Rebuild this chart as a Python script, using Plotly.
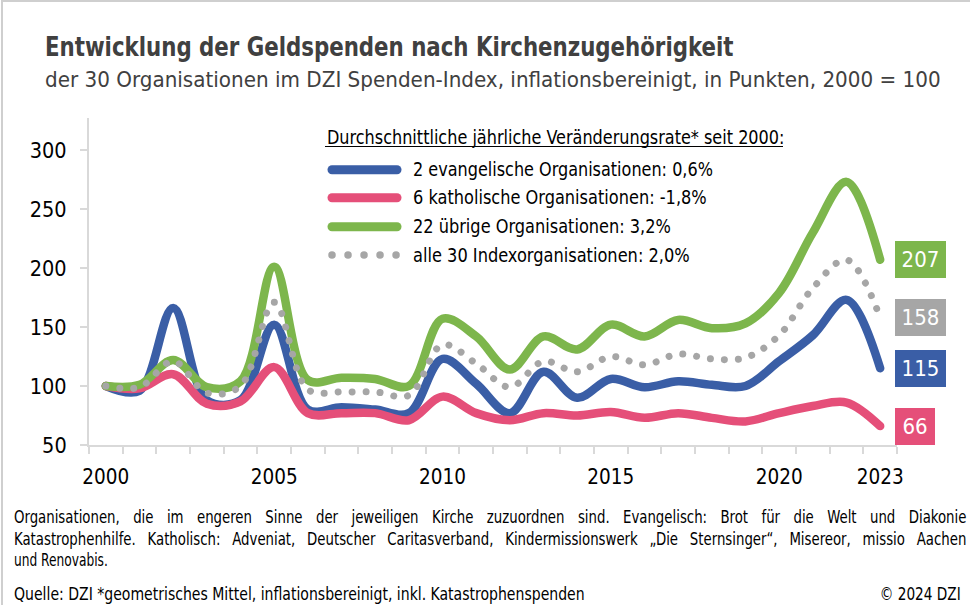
import json
import plotly.graph_objects as go

# ---------------- data ----------------
years = [str(y) for y in range(2000, 2024)]
tick_text = ["2000", "", "", "", "", "2005", "", "", "", "", "2010", "", "", "", "", "2015",
             "", "", "", "", "2020", "", "", "2023"]
evangelisch = [100, 96, 166, 88, 88, 152, 80, 82, 80, 77, 123, 102, 77, 112, 90, 106, 99, 104, 101, 100, 121, 143, 173, 115]
katholisch = [100, 98, 110, 85, 87, 116, 77, 77, 77, 71, 91, 77, 71, 77, 75, 78, 73, 77, 73, 70, 77, 83, 86, 66]
uebrige = [100, 101, 122, 99, 104, 201, 105, 107, 106, 100, 157, 142, 114, 142, 131, 152, 142, 156, 149, 153, 179, 230, 273, 207]
alle = [100, 99, 121, 94, 100, 171, 97, 95, 95, 92, 135, 119, 99, 121, 112, 125, 118, 127, 123, 124, 143, 183, 207, 158]

series_names = ["2 evangelische Organisationen: 0,6%", "6 katholische Organisationen: -1,8%",
                "22 übrige Organisationen: 3,2%", "alle 30 Indexorganisationen: 2,0%"]
series_values = [evangelisch, katholisch, uebrige, alle]
series_colors = ["#3A5EA6", "#E54F79", "#7DB64C", "#A6A6A6"]
series_dash = ["solid", "solid", "solid", "6px,8px"]

y_ticks = [50, 100, 150, 200, 250, 300]

title = "Entwicklung der Geldspenden nach Kirchenzugehörigkeit"
subtitle = "der 30 Organisationen im DZI Spenden-Index, inflationsbereinigt, in Punkten, 2000 = 100"
legend_title = "Durchschnittliche jährliche Veränderungsrate* seit 2000:"
footnote_lines = [
    "Organisationen, die im engeren Sinne der jeweiligen Kirche zuzuordnen sind. Evangelisch: Brot für die Welt und Diakonie",
    "Katastrophenhilfe. Katholisch: Adveniat, Deutscher Caritasverband, Kindermissionswerk „Die Sternsinger“, Misereor, missio Aachen",
    "und Renovabis.",
]
source = "Quelle: DZI *geometrisches Mittel, inflationsbereinigt, inkl. Katastrophenspenden"
copyright_text = "© 2024 DZI"

FONT = "DejaVu Sans Condensed, DejaVu Sans, sans-serif"
W, H = 970, 605
ML, MR, MT, MB = 89, 73, 118, 160
PW, PH = W - ML - MR, H - MT - MB


def px_x(x):
    return (x - ML) / PW


def px_y(y):
    return (H - MB - y) / PH


fig = go.Figure()
for name, vals, col, dash in zip(series_names, series_values, series_colors, series_dash):
    fig.add_trace(go.Scatter(
        x=years, y=vals, mode="lines", name=name,
        line=dict(color=col, width=(7 if dash != "solid" else 8.5), shape="spline", smoothing=1, dash=dash),
        showlegend=False, hoverinfo="skip",
    ))

annotations = []
shapes = []
text_fit = {}   # annotation index -> horizontal fitting spec (condensed look)


def add_text(text, x, y, size, color="#000000", anchor="left", fit=None, yref="paper"):
    annotations.append(dict(text=text, xref="paper", yref=yref, x=px_x(x),
                            y=(px_y(y) if yref == "paper" else y),
                            xanchor=anchor, yanchor="middle", align=anchor, showarrow=False,
                            font=dict(family=FONT, size=size, color=color)))
    if fit is not None:
        fit = dict(fit)
        fit["anchor"] = anchor
        text_fit[len(annotations) - 1] = fit


# Title and subtitle
add_text("<b>" + title + "</b>", 42.5, 46.5, 26.5, "#404040", fit={"w": 689})
add_text(subtitle, 42.5, 79, 21.5, "#404040", fit={"w": 896})

# Legend (drawn manually)
add_text(legend_title, 325, 137, 19.5, fit={"w": 458})
shapes.append(dict(type="line", xref="paper", yref="paper", x0=px_x(325), x1=px_x(783),
                   y0=px_y(146.5), y1=px_y(146.5), line=dict(color="#000000", width=1)))
row_y = [169.7, 197.8, 226.7, 255]
row_w = [300, 294, 258, 277]
for name, col, dash, ry, rw in zip(series_names, series_colors, series_dash, row_y, row_w):
    shapes.append(dict(type="line", xref="paper", yref="paper", x0=px_x(332), x1=px_x(397),
                       y0=px_y(ry), y1=px_y(ry),
                       line=dict(color=col, width=(7.5 if dash != "solid" else 9),
                                 dash=("6px,10px" if dash != "solid" else "solid"))))
    add_text(name, 410.5, ry, 19.5, fit={"w": rw})

# End value labels (centred on the last value of each series)
for vals, col in zip(series_values, series_colors):
    txt = str(vals[-1])
    annotations.append(dict(text=txt, xref="paper", yref="y", x=px_x(895), y=vals[-1],
                            xanchor="left", yanchor="middle", showarrow=False,
                            bgcolor=col, width=(49 if len(txt) == 3 else 38), height=35,
                            borderpad=0, borderwidth=1, bordercolor=col, align="center",
                            font=dict(family=FONT, size=22, color="#FFFFFF")))

# Footnotes
foot_y = [516.5, 539, 559.5]
add_text(footnote_lines[0], 12, foot_y[0], 17, fit={"w": 953, "f": 0.87, "just": True})
add_text(footnote_lines[1], 12, foot_y[1], 17, fit={"w": 953, "f": 0.87, "just": True})
add_text(footnote_lines[2], 12, foot_y[2], 17, fit={"f": 0.8})
add_text(source, 12, 594, 17, fit={"w": 571})
add_text(copyright_text, 963, 594, 17, anchor="right", fit={"w": 81})

# Frame lines (top & left)
shapes.append(dict(type="line", xref="paper", yref="paper", x0=px_x(2), x1=px_x(970),
                   y0=px_y(1), y1=px_y(1), line=dict(color="#CFCFCF", width=2)))
shapes.append(dict(type="line", xref="paper", yref="paper", x0=px_x(2), x1=px_x(2),
                   y0=px_y(0), y1=px_y(605), line=dict(color="#CFCFCF", width=2)))

fig.update_layout(
    width=W, height=H,
    margin=dict(l=ML, r=MR, t=MT, b=MB, pad=0, autoexpand=False),
    paper_bgcolor="#FFFFFF", plot_bgcolor="#FFFFFF",
    font=dict(family=FONT, color="#000000"),
    annotations=annotations, shapes=shapes,
    xaxis=dict(type="category", range=[-0.5, len(years) - 0.5], tickson="boundaries",
               tickmode="array", tickvals=years, ticktext=tick_text, tickangle=0, automargin=False,
               ticks="outside", ticklen=7, tickwidth=2, tickcolor="#D9D9D9",
               showline=True, linecolor="#D9D9D9", linewidth=2, showgrid=False, zeroline=False,
               tickfont=dict(family=FONT, size=20.5, color="#000000"), ticklabelstandoff=12,
               fixedrange=True),
    yaxis=dict(range=[50, 50 + PH / 1.18], tickmode="array", tickvals=y_ticks, automargin=False,
               ticks="outside", ticklen=7, tickwidth=2, tickcolor="#D9D9D9",
               showline=True, linecolor="#D9D9D9", linewidth=2, showgrid=False, zeroline=False,
               tickfont=dict(family=FONT, size=21.5, color="#000000"), ticklabelstandoff=9,
               fixedrange=True),
)

post = """
document.body.style.margin = '0';
document.documentElement.style.margin = '0';
var FIT = %s;
document.querySelectorAll('g.annotation').forEach(function(g){
  var s = FIT[g.getAttribute('data-index')];
  if (!s) return;
  var t = g.querySelector('text.annotation-text');
  if (!t) return;
  var bb = t.getBBox();
  var N = bb.width;
  var f;
  if (s.just) {
    f = s.f;
    var nsp = (t.textContent.match(/ /g) || []).length;
    if (nsp > 0) { t.style.wordSpacing = ((s.w / f - N) / nsp) + 'px'; }
  } else if (s.w) {
    f = s.w / N;
  } else {
    f = s.f;
  }
  var x0 = (s.anchor === 'right') ? (bb.x + bb.width) : bb.x;
  t.setAttribute('transform', 'translate(' + x0 + ',0) scale(' + f + ',1) translate(' + (-x0) + ',0)');
});
document.querySelectorAll('path').forEach(function(p){
  var sw = parseFloat(p.style.strokeWidth);
  var d = p.style.strokeDasharray;
  if (d && d !== 'none') {
    var parts = d.split(',').map(function(v){return parseFloat(v);});
    if (parts.length === 2 && !isNaN(parts[0]) && !isNaN(parts[1])) {
      p.style.strokeDasharray = '0.01px,' + (parts[0] + parts[1]) + 'px';
      p.style.strokeLinecap = 'round';
    }
  } else if (sw >= 5) {
    p.style.strokeLinecap = 'round';
    p.style.strokeLinejoin = 'round';
  }
});
""" % json.dumps({str(k): v for k, v in text_fit.items()})

fig.write_html("out.html", post_script=post, config={"staticPlot": True})
